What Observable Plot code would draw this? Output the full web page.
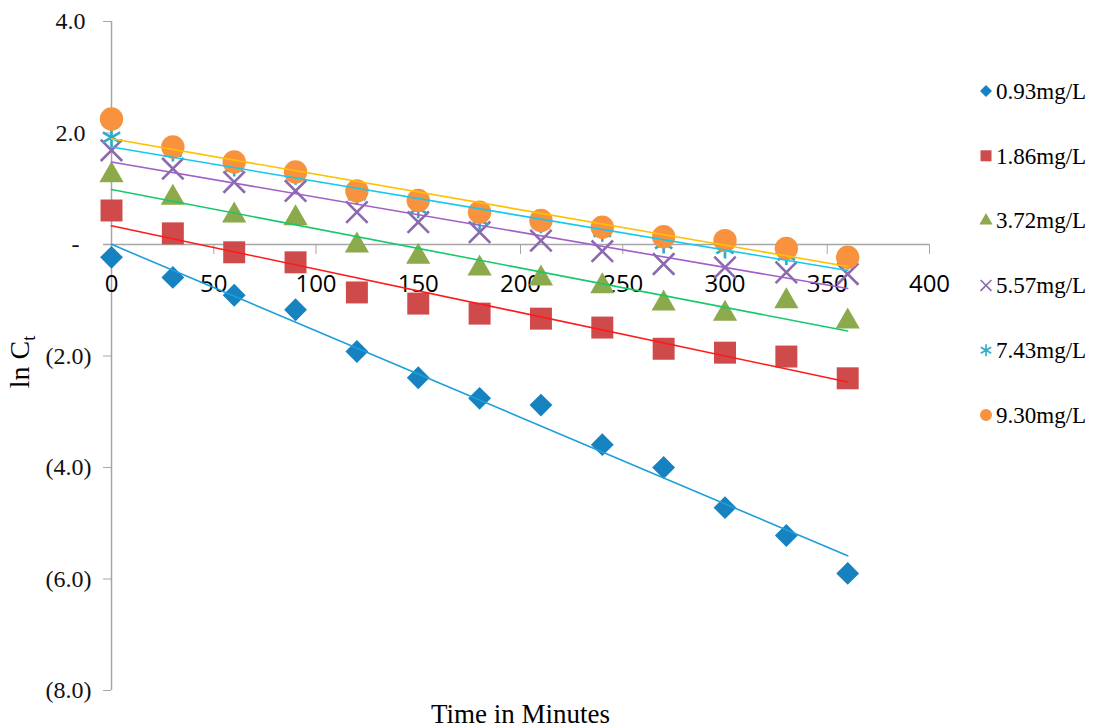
<!DOCTYPE html>
<html>
<head>
<meta charset="utf-8">
<script src="https://cdn.jsdelivr.net/npm/d3@7"></script>
<script src="https://cdn.jsdelivr.net/npm/@observablehq/plot@0.6"></script>
<style>
  html, body { margin: 0; padding: 0; background: #fff; }
  #chart { width: 1097px; height: 728px; }
</style>
</head>
<body>
<div id="chart"></div>
<script>
// ---------- data ----------
const times = [0, 30, 60, 90, 120, 150, 180, 210, 240, 270, 300, 330, 360];
const s093 = [-0.23, -0.59, -0.91, -1.17, -1.92, -2.39, -2.76, -2.88, -3.59, -4.00, -4.72, -5.22, -5.90];
const s186 = [0.61, 0.20, -0.14, -0.32, -0.86, -1.06, -1.24, -1.33, -1.49, -1.87, -1.94, -2.01, -2.40];
const s372 = [1.24, 0.84, 0.52, 0.47, -0.02, -0.22, -0.43, -0.61, -0.75, -1.06, -1.24, -1.02, -1.38];
const s557 = [1.69, 1.36, 1.12, 0.96, 0.58, 0.40, 0.22, 0.07, -0.12, -0.35, -0.41, -0.50, -0.53];
const s743 = [1.92, 1.67, 1.40, 1.25, 0.89, 0.65, 0.44, 0.38, 0.23, 0.02, -0.07, -0.19, -0.27];
const s930 = [2.25, 1.75, 1.48, 1.30, 0.96, 0.79, 0.58, 0.43, 0.31, 0.14, 0.07, -0.07, -0.23];
const seriesLabels = ["0.93mg/L", "1.86mg/L", "3.72mg/L", "5.57mg/L", "7.43mg/L", "9.30mg/L"];
const xTicks = [0, 50, 100, 150, 200, 250, 300, 350, 400];
const yTicks = [4, 2, 0, -2, -4, -6, -8];
const xTitle = "Time in Minutes";
const yTitleMain = "ln C";
const yTitleSub = "t";

// ---------- styling ----------
const seriesValues = [s093, s186, s372, s557, s743, s930];
const markerSymbols = ["diamond2", "square", "triangle", "times", "asterisk", "circle"];
const markerFilled = [true, true, true, false, false, true];
const markerR = [10.3, 12.4, 9, 9.8, 9.5, 11.7];
const legendSize = [92, 121, 75, 79, 102, 113];
const markerColors = ["#1682C0", "#CF4B4B", "#8CAA4C", "#8B6AAE", "#2AADC9", "#F8923F"];
const lineColors = ["#1C9FDB", "#FF1A1A", "#16C96A", "#A060C8", "#14C8F0", "#FFC000"];
const axisGray = "#A6A6A6";

const W = 1097, H = 728, mL = 111, mR = 168, mT = 21, mB = 38;
const yDomain = [-8, 4];
const yZeroPx = mT + (yDomain[1] - 0) / (yDomain[1] - yDomain[0]) * (H - mT - mB);
const axisShift = yZeroPx - (H - mB);

const rows = seriesLabels.flatMap((label, i) =>
  times.map((t, j) => ({ series: label, idx: i, t, v: seriesValues[i][j] })));

const fmtY = d => d === 0 ? "-\u00a0\u00a0" : d < 0 ? `(${(-d).toFixed(1)})` : `${d.toFixed(1)}\u00a0`;

const dotMarks = seriesLabels.map((label, i) => {
  const data = rows.filter(r => r.idx === i);
  const opts = { x: "t", y: "v", symbol: () => markerSymbols[i], r: markerR[i] };
  if (markerFilled[i]) { opts.fill = markerColors[i]; opts.stroke = "none"; }
  else { opts.stroke = markerColors[i]; opts.fill = "none"; opts.strokeWidth = 2.6; }
  return Plot.dot(data, opts);
});

const lineMarks = seriesLabels.map((label, i) =>
  Plot.linearRegressionY(rows.filter(r => r.idx === i),
    { x: "t", y: "v", stroke: lineColors[i], strokeWidth: 1.6, ci: 0 }));

const svg = Plot.plot({
  width: W, height: H,
  marginLeft: mL, marginRight: mR, marginTop: mT, marginBottom: mB,
  style: { background: "#fff", overflow: "visible" },
  x: { domain: [0, 400] },
  y: { domain: yDomain },
  symbol: { type: "identity" },
  marks: [
    Plot.ruleX([0], { stroke: axisGray, strokeWidth: 1.5 }),
    Plot.ruleY([0], { stroke: axisGray, strokeWidth: 1.5, insetLeft: -8 }),
    Plot.axisY({
      ticks: yTicks, tickFormat: fmtY, tickSize: 8, tickPadding: 12,
      stroke: axisGray, fill: "#111", fontSize: 24,
      fontFamily: "'Liberation Serif', 'Times New Roman', serif", label: null
    }),
    Plot.axisX({
      ticks: xTicks, tickFormat: d => String(d), anchor: "bottom", dy: axisShift,
      tickSize: 10, tickPadding: 20, stroke: axisGray, fill: "#000",
      fontSize: 24, fontFamily: "'Open Sans', sans-serif", label: null
    }),
    ...dotMarks,
    ...lineMarks,
    Plot.text([xTitle], {
      frameAnchor: "bottom", text: d => d, dy: 32, lineAnchor: "bottom",
      fontSize: 27, fontFamily: "'Liberation Serif', 'Times New Roman', serif", fill: "#000"
    })
  ]
});

// y-axis title with subscript
const s = d3.select(svg);
const yt = s.append("text")
  .attr("transform", `translate(29,${yZeroPx + 118}) rotate(-90)`)
  .attr("text-anchor", "middle")
  .attr("font-family", "'Liberation Serif', 'Times New Roman', serif")
  .attr("font-size", 28)
  .attr("fill", "#000");
yt.append("tspan").text(yTitleMain);
yt.append("tspan").attr("font-size", 18).attr("dy", "0.35em").text(yTitleSub);

// legend
const lg = s.append("g").attr("class", "legend").attr("text-anchor", "start");
const typeMap = { diamond2: d3.symbolDiamond2, square: d3.symbolSquare, triangle: d3.symbolTriangle,
                  times: d3.symbolTimes, asterisk: d3.symbolAsterisk, circle: d3.symbolCircle };
seriesLabels.forEach((label, i) => {
  const cy = 91 + i * 64.8;
  const path = d3.symbol(typeMap[markerSymbols[i]], legendSize[i])();
  const p = lg.append("path").attr("d", path).attr("transform", `translate(986,${cy})`);
  if (markerFilled[i]) p.attr("fill", markerColors[i]);
  else p.attr("fill", "none").attr("stroke", markerColors[i]).attr("stroke-width", 1.6);
  lg.append("text")
    .attr("x", 996).attr("y", cy).attr("dy", "0.34em")
    .attr("text-anchor", "start")
    .attr("font-family", "'Liberation Serif', 'Times New Roman', serif")
    .attr("font-size", 23).attr("fill", "#000")
    .text(label);
});

document.getElementById("chart").appendChild(svg);
</script>
</body>
</html>
